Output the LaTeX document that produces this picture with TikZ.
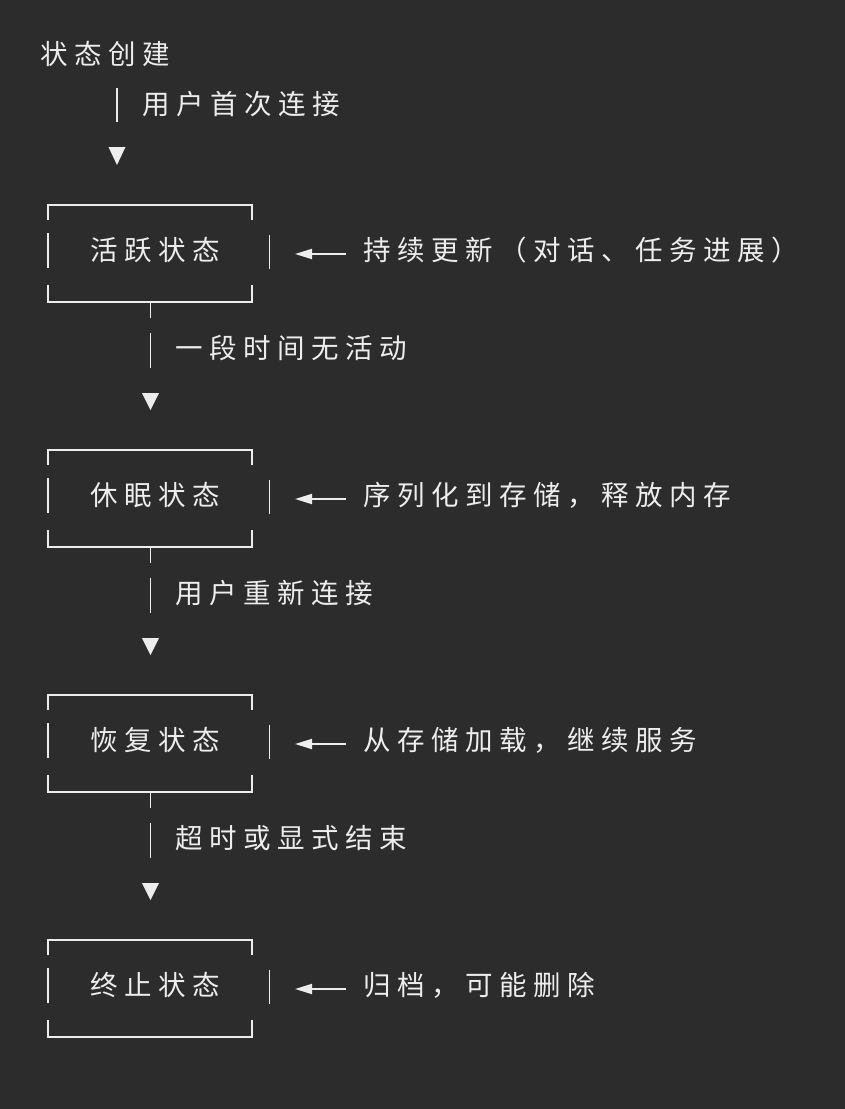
\documentclass[tikz,border=0pt]{standalone}
\usepackage{fontspec}
\usetikzlibrary{arrows.meta}
\newfontfamily\cjk{Noto Sans CJK SC}
\definecolor{bgc}{HTML}{2C2C2C}
\definecolor{fgc}{HTML}{EDEDED}
\makeatletter
\newcommand\spreadtext[1]{\spread@loop#1\relax}
\def\spread@loop#1{\ifx#1\relax\else\makebox[34pt][l]{#1}\expandafter\spread@loop\fi}
\newcommand\spreadmacro[1]{\expandafter\spreadtext\expandafter{#1}}
\makeatother
\tikzset{
  txt/.style={anchor=base west, inner sep=0pt, text=fgc, font=\cjk\fontsize{27.5pt}{27.5pt}\selectfont},
  ln/.style={draw=fgc, line width=1.9pt},
  arr/.style={draw=fgc, line width=1.9pt, -{Triangle[length=17pt,width=10pt]}},
  tri/.style={fill=fgc, draw=none}
}
\begin{document}
\begin{tikzpicture}[x=1pt,y=-1pt]
\fill[bgc] (0,0) rectangle (845,1109);
\useasboundingbox (0,0) rectangle (845,1109);
% start
\node[txt] (start) at (40,64) {\spreadtext{状态创建}};
\draw[ln] (117,88) -- (117,122);
\node[txt] (t0) at (142,114) {\spreadtext{用户首次连接}};
\fill[tri] (108.5,147) -- (125.5,147) -- (117,165) -- cycle;
% boxes
\foreach \T/\lab/\note/\nm in {205/活跃状态/持续更新（对话、任务进展）/a,
                           450/休眠状态/序列化到存储，释放内存/b,
                           695/恢复状态/从存储加载，继续服务/c,
                           940/终止状态/归档，可能删除/d}{
  \draw[ln] (48,\T+15) -- (48,\T) -- (252,\T) -- (252,\T+15);
  \draw[ln] (48,\T+28) -- (48,\T+63);
  \draw[ln] (269.5,\T+30) -- (269.5,\T+64);
  \draw[ln] (48,\T+80) -- (48,\T+97) -- (252,\T+97) -- (252,\T+80);
  \node[txt] (box\nm) at (90.5,\T+55) {\spreadmacro{\lab}};
  \node[txt] (note\nm) at (363,\T+55) {\spreadmacro{\note}};
  \coordinate (as\nm) at (346,\T+49);
  \coordinate (ae\nm) at (295,\T+49);
  \draw[arr] (as\nm) -- (ae\nm);
}
% transitions
\foreach \T/\lab/\nm in {205/一段时间无活动/a, 450/用户重新连接/b, 695/超时或显式结束/c}{
  \draw[ln] (150.5,\T+97) -- (150.5,\T+113);
  \draw[ln] (150.5,\T+128) -- (150.5,\T+163);
  \node[txt] (tr\nm) at (175.5,\T+153.5) {\spreadmacro{\lab}};
  \fill[tri] (142,\T+188) -- (159,\T+188) -- (150.5,\T+205) -- cycle;
}
\end{tikzpicture}
\end{document}
